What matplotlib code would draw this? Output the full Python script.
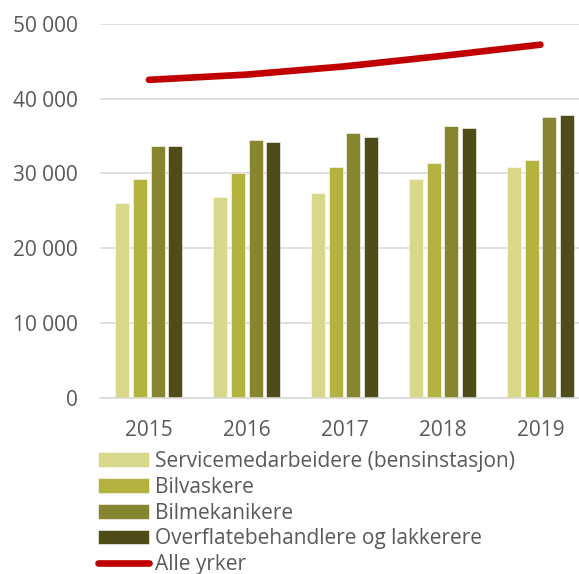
import numpy as np
import matplotlib
matplotlib.use('Agg')
import matplotlib.pyplot as plt
from matplotlib.ticker import FuncFormatter

plt.rcParams['font.family'] = ['Open Sans', 'DejaVu Sans']

# data
years = ['2015', '2016', '2017', '2018', '2019']
series_names = ['Servicemedarbeidere (bensinstasjon)', 'Bilvaskere',
                'Bilmekanikere', 'Overflatebehandlere og lakkerere']
service = [26100, 26800, 27400, 29200, 30800]
bilvask = [29300, 30100, 30800, 31400, 31800]
bilmek = [33600, 34500, 35400, 36300, 37500]
lakk = [33700, 34200, 34900, 36100, 37800]
alle_name = 'Alle yrker'
alle = [42500, 43200, 44300, 45700, 47200]

colors = ['#D9D78A', '#B5B33F', '#87852F', '#4F4C1A']
line_color = '#C00000'
text_color = '#595959'
grid_color = '#D9D9D9'

W, H = 579, 574
fig = plt.figure(figsize=(W / 100, H / 100), dpi=100)
ax = fig.add_axes([100 / W, (H - 398) / H, (W - 100) / W, (398 - 23.7) / H])

x = np.arange(len(years))
offsets = [-0.271, -0.09, 0.09, 0.271]
for vals, off, c, name in zip([service, bilvask, bilmek, lakk], offsets, colors, series_names):
    ax.bar(x + off, vals, width=0.143, color=c, edgecolor='white', linewidth=0.4,
           label=name, zorder=2)

ax.plot(x, alle, color=line_color, linewidth=4.8, solid_capstyle='round',
        label=alle_name, zorder=3)

ax.set_ylim(0, 50000)
ax.set_xlim(-0.5, 4.394)
ax.set_yticks(np.arange(0, 50001, 10000))
ax.yaxis.set_major_formatter(FuncFormatter(lambda v, p: f'{int(v):,}'.replace(',', ' ')))
ax.set_xticks(x)
ax.set_xticklabels(years)

ax.grid(axis='y', color=grid_color, linewidth=1.2, zorder=0)
ax.set_axisbelow(True)
for s in ['top', 'right', 'left']:
    ax.spines[s].set_visible(False)
ax.spines['bottom'].set_color(grid_color)
ax.spines['bottom'].set_linewidth(1.2)
ax.tick_params(axis='both', length=0, labelsize=15, colors=text_color)
ax.tick_params(axis='y', pad=16)
ax.tick_params(axis='x', pad=16)

handles, labels = ax.get_legend_handles_labels()
# put bars first, line last
handles = handles[1:] + handles[:1]
labels = labels[1:] + labels[:1]
leg = fig.legend(handles, labels, loc='upper left',
                 bbox_to_anchor=(98 / W, 1 - 451 / H), frameon=False,
                 fontsize=15, handlelength=2.45, handletextpad=0.3,
                 labelspacing=0.23, borderpad=0, borderaxespad=0)
for t in leg.get_texts():
    t.set_color(text_color)

fig.savefig('out.png', dpi=100)
